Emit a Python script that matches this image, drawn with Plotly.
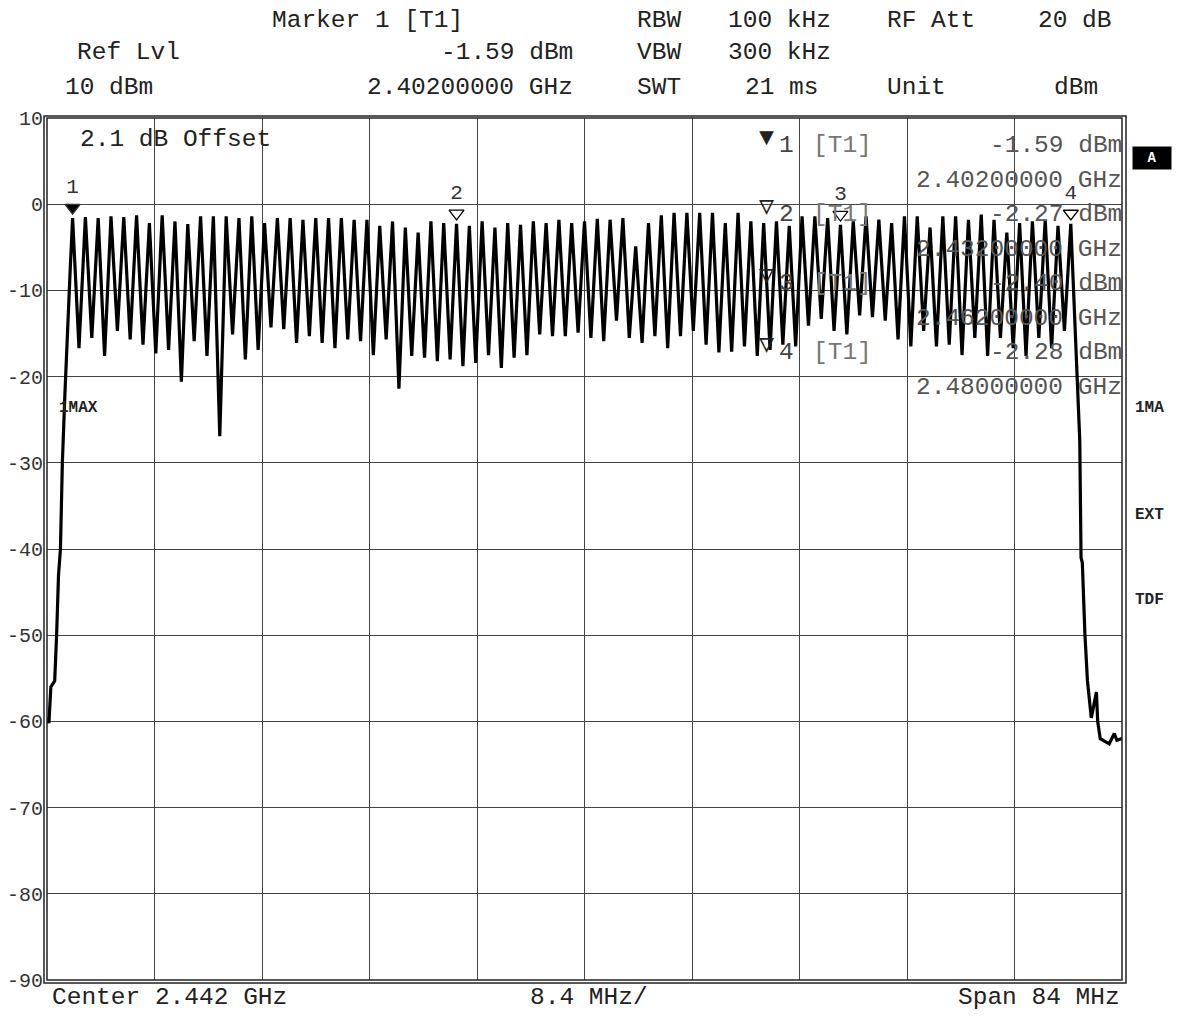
import plotly.graph_objects as go

# ---------------- data ----------------
channel_mhz = [2402, 2403, 2404, 2405, 2406, 2407, 2408, 2409, 2410, 2411,
               2412, 2413, 2414, 2415, 2416, 2417, 2418, 2419, 2420, 2421,
               2422, 2423, 2424, 2425, 2426, 2427, 2428, 2429, 2430, 2431,
               2432, 2433, 2434, 2435, 2436, 2437, 2438, 2439, 2440, 2441,
               2442, 2443, 2444, 2445, 2446, 2447, 2448, 2449, 2450, 2451,
               2452, 2453, 2454, 2455, 2456, 2457, 2458, 2459, 2460, 2461,
               2462, 2463, 2464, 2465, 2466, 2467, 2468, 2469, 2470, 2471,
               2472, 2473, 2474, 2475, 2476, 2477, 2478, 2479, 2480]

peak_dbm = [-1.6, -1.5, -1.6, -1.4, -1.5, -1.3, -2.2, -1.3, -2.0, -2.3,
            -1.4, -1.4, -1.4, -1.6, -1.4, -2.2, -1.6, -1.6, -1.8, -1.6,
            -1.6, -1.6, -1.8, -1.8, -2.5, -2.0, -2.7, -3.3, -2.0, -2.2,
            -2.27, -2.5, -2.0, -2.7, -2.2, -2.4, -2.0, -2.2, -1.8, -2.2,
            -2.0, -1.7, -1.8, -1.6, -4.9, -2.2, -1.3, -1.0, -1.0, -1.0,
            -1.0, -2.2, -1.0, -2.0, -2.2, -2.0, -2.5, -1.4, -1.4, -1.6,
            -2.4, -2.0, -1.4, -1.8, -2.2, -1.4, -1.4, -2.7, -1.4, -1.4,
            -1.8, -1.2, -1.8, -3.3, -2.2, -2.0, -1.8, -2.5, -2.28]

# level of the dip between channel k and channel k+1
valley_dbm = [-16.7, -15.5, -17.6, -14.7, -15.7, -16.3, -17.3, -16.9, -20.6, -15.9,
              -17.6, -26.9, -15.1, -18.0, -16.9, -14.3, -14.5, -16.1, -15.3, -16.1,
              -16.7, -15.7, -15.9, -17.5, -15.7, -21.4, -17.6, -17.8, -18.2, -18.0,
              -18.8, -18.4, -17.5, -19.0, -17.8, -17.5, -15.1, -15.3, -15.3, -14.9,
              -15.5, -15.9, -13.5, -15.5, -16.1, -15.3, -16.7, -15.3, -14.7, -16.3,
              -17.2, -17.1, -16.5, -17.6, -16.9, -16.3, -16.5, -14.1, -13.3, -14.7,
              -15.1, -12.9, -13.1, -13.5, -15.7, -16.5, -14.7, -16.5, -16.3, -17.5,
              -15.5, -17.6, -15.5, -16.7, -17.6, -15.5, -16.7, -14.7]

left_edge_mhz = [2400.0, 2400.15, 2400.3, 2400.6, 2400.75, 2400.9, 2401.05,
                 2401.2, 2401.4, 2401.6, 2401.8]
left_edge_dbm = [-59.5, -60.2, -56.0, -55.3, -50.0, -43.0, -40.0,
                 -30.0, -22.0, -14.0, -8.0]

right_edge_mhz = [2480.2, 2480.4, 2480.5, 2480.7, 2480.8, 2480.9, 2481.1, 2481.3,
                  2481.6, 2481.9, 2482.0, 2482.1, 2482.3, 2483.0, 2483.2, 2483.4,
                  2483.6, 2484.0]
right_edge_dbm = [-10.0, -16.0, -20.4, -27.4, -41.0, -41.6, -49.8, -55.3,
                  -59.6, -57.0, -56.6, -60.0, -62.0, -62.6, -62.0, -61.4,
                  -62.2, -62.0]

marker_ids = ["1", "2", "3", "4"]
marker_mhz = [2402, 2432, 2462, 2480]
marker_dbm = [-1.59, -2.27, -2.40, -2.28]
marker_freq_text = ["2.40200000 GHz", "2.43200000 GHz", "2.46200000 GHz", "2.48000000 GHz"]

y_tick_vals = [10, 0, -10, -20, -30, -40, -50, -60, -70, -80, -90]
y_tick_text = ["10", "0", "-10", "-20", "-30", "-40", "-50", "-60", "-70", "-80", "-90"]

# ---------------- build trace ----------------
xs = list(left_edge_mhz)
ys = list(left_edge_dbm)
for k, f in enumerate(channel_mhz):
    xs.append(f)
    ys.append(peak_dbm[k])
    if k < len(valley_dbm):
        xs.append((f + channel_mhz[k + 1]) / 2)
        ys.append(valley_dbm[k])
xs += right_edge_mhz
ys += right_edge_dbm

# page geometry (the html body has an 8px margin)
OFF = 8
W, H = 1188 - 2 * OFF, 1018 - 2 * OFF
L, R, T, B = 47, 1122, 118, 980          # plot area in page pixels
MONO = "Liberation Mono, Courier New, monospace"


def px(x):
    return (x - L) / (R - L)


def py(y):
    return (B - y) / (B - T)


fig = go.Figure()
fig.add_trace(go.Scatter(x=xs, y=ys, mode="lines",
                         line=dict(color="black", width=3.2), hoverinfo="skip",
                         showlegend=False))

# markers on trace
fig.add_trace(go.Scatter(
    x=marker_mhz, y=[v + 1.2 for v in marker_dbm], mode="markers+text",
    marker=dict(symbol=["triangle-down", "triangle-down-open", "triangle-down-open",
                        "triangle-down-open"], size=13, color="black",
                line=dict(color="#333", width=1.3)),
    text=marker_ids, textposition="top center",
    textfont=dict(family=MONO, size=21, color="#333"),
    showlegend=False, hoverinfo="skip"))

ann = []


def txt(x, y, s, anchor="left", size=24.5, color="#222", bold=False, **kw):
    ann.append(dict(x=px(x), y=py(y), xref="paper", yref="paper",
                    text=("<b>%s</b>" % s) if bold else s,
                    showarrow=False, xanchor=anchor, yanchor="middle",
                    font=dict(family=MONO, size=size, color=color), **kw))


# header
txt(270, 20, "Marker 1 [T1]")
txt(635, 20, "RBW")
txt(726, 20, "100 kHz")
txt(885, 20, "RF Att")
txt(1114, 20, "20 dB", anchor="right")
txt(75, 53, "Ref Lvl")
txt(575, 53, "%.2f dBm" % marker_dbm[0], anchor="right")
txt(635, 53, "VBW")
txt(726, 53, "300 kHz")
txt(63, 87, "10 dBm")
txt(575, 87, marker_freq_text[0], anchor="right")
txt(635, 87, "SWT")
txt(743, 87, "21 ms")
txt(885, 87, "Unit")
txt(1100, 87, "dBm", anchor="right")

# in-plot info
txt(78, 139, "2.1 dB Offset")
row_y = [145, 214, 283, 352]
for i, mid in enumerate(marker_ids):
    sym = "\u25BC" if i == 0 else "\u25BD"
    txt(757, row_y[i] - 7, sym, size=25, color="#222")
    txt(777, row_y[i], mid, color="#444")
    txt(811, row_y[i], "[T1]", color="#777")
    txt(1124, row_y[i], "%.2f dBm" % marker_dbm[i], anchor="right", color="#555")
    txt(1124, row_y[i] + 35, marker_freq_text[i], anchor="right", color="#555")

txt(57, 408, "1MAX", size=16, bold=True, color="#222")
txt(1133, 408, "1MA", size=16, bold=True, color="#222")
txt(1133, 515, "EXT", size=16, bold=True, color="#222")
txt(1133, 600, "TDF", size=16, bold=True, color="#222")
ann.append(dict(x=px(1152), y=py(158), xref="paper", yref="paper", text="<b>A</b>",
                showarrow=False, xanchor="center", yanchor="middle", bgcolor="black",
                width=36, height=20, font=dict(family=MONO, size=14, color="white")))

# footer
txt(50, 997, "Center 2.442 GHz")
txt(528, 997, "8.4 MHz/")
txt(1122, 997, "Span 84 MHz", anchor="right")

shapes = [
    dict(type="rect", xref="paper", yref="paper", x0=0, x1=1, y0=0, y1=1,
         line=dict(color="#222", width=1.5)),
    dict(type="rect", xref="paper", yref="paper", x0=-3 / (R - L), x1=1 + 4 / (R - L),
         y0=-3 / (B - T), y1=1 + 2 / (B - T), line=dict(color="#222", width=1.5)),
]

fig.update_layout(
    width=W, height=H,
    margin=dict(l=L - OFF, r=(1188 - OFF) - R, t=T - OFF, b=(1018 - OFF) - B, pad=0,
                autoexpand=False),
    paper_bgcolor="white", plot_bgcolor="white",
    annotations=ann, shapes=shapes,
    xaxis=dict(range=[2400, 2484], tick0=2400, dtick=8.4, showgrid=True,
               gridcolor="#444", gridwidth=1.2, showticklabels=False, zeroline=False,
               showline=False, ticks="", automargin=False),
    yaxis=dict(range=[-90, 10], tickvals=y_tick_vals, ticktext=y_tick_text,
               showgrid=True, gridcolor="#444", gridwidth=1.2, zeroline=False,
               showline=False, ticks="", ticklabelstandoff=3, automargin=False,
               tickfont=dict(family=MONO, size=20, color="#333")),
)

fig.write_html("out.html")
